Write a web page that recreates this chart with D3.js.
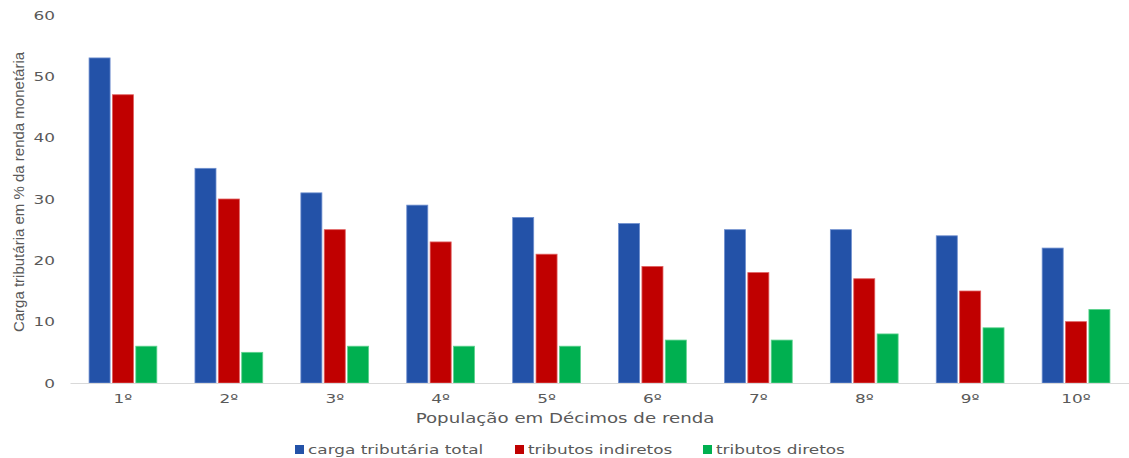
<!DOCTYPE html>
<html>
<head>
<meta charset="utf-8">
<script src="https://cdn.jsdelivr.net/npm/d3@7"></script>
<style>
  html, body { margin: 0; padding: 0; background: #ffffff; }
  svg { display: block; }
</style>
</head>
<body>
<svg id="chart" width="1129" height="458"></svg>
<script>
// Tax burden by income decile (% of monetary income)
const deciles = ["1º", "2º", "3º", "4º", "5º", "6º", "7º", "8º", "9º", "10º"];
const seriesNames = ["carga tributária total", "tributos indiretos", "tributos diretos"];
const total     = [53, 35, 31, 29, 27, 26, 25, 25, 24, 22];
const indiretos = [47, 30, 25, 23, 21, 19, 18, 17, 15, 10];
const diretos   = [6, 5, 6, 6, 6, 7, 7, 8, 9, 12];
const yTicks = [0, 10, 20, 30, 40, 50, 60];
const colors = ["#2352a8", "#c00000", "#00b050"];
const strokes = ["#6f8fcf", "#e06060", "#5fd38f"];

const seriesValues = [total, indiretos, diretos];

const svg = d3.select("#chart");
const margin = { left: 70, right: 0, top: 15, bottom: 75 };
const width = 1129, height = 458;

// wide text rendering (horizontal stretch of labels)
const stretch = "scale(1.3,1)";

const x = d3.scaleBand()
  .domain(deciles)
  .range([margin.left, width - margin.right])
  .paddingInner(0.36)
  .paddingOuter(0.18);

const xSub = d3.scaleBand()
  .domain(d3.range(seriesNames.length))
  .range([0, x.bandwidth()])
  .paddingInner(0.1);

const y = d3.scaleLinear()
  .domain([0, 60])
  .range([383, 15]);

const textColor = "#595959";
const font = "'DejaVu Sans', Verdana, sans-serif";

// Y axis tick labels
const yAxis = d3.axisLeft(y).tickValues(yTicks).tickSize(0).tickPadding(0);
const gy = svg.append("g")
  .attr("transform", `translate(55,0)`)
  .call(yAxis);
gy.select(".domain").remove();
gy.selectAll("text")
  .attr("fill", textColor)
  .attr("transform", stretch)
  .style("font-family", font)
  .style("font-size", "13px");

// Bars
const groups = svg.append("g")
  .selectAll("g")
  .data(deciles)
  .join("g")
  .attr("transform", d => `translate(${x(d)},0)`);

groups.selectAll("rect")
  .data((d, i) => seriesValues.map((vals, s) => ({ s, v: vals[i] })))
  .join("rect")
  .attr("x", d => xSub(d.s))
  .attr("width", xSub.bandwidth())
  .attr("y", d => y(d.v))
  .attr("height", d => y(0) - y(d.v))
  .attr("fill", d => colors[d.s])
  .attr("stroke", d => strokes[d.s])
  .attr("stroke-width", 0.8);

// X axis baseline and labels
const xAxis = d3.axisBottom(x).tickSize(0).tickPadding(11);
const gx = svg.append("g")
  .attr("transform", `translate(0,${y(0)})`)
  .call(xAxis);
gx.select(".domain").attr("stroke", "#d9d9d9").attr("stroke-width", 1.2);
gx.selectAll("text")
  .attr("fill", textColor)
  .attr("transform", stretch)
  .style("font-family", font)
  .style("font-size", "13px");

// Axis titles
svg.append("text")
  .attr("transform", `translate(565,423) ${stretch}`)
  .attr("text-anchor", "middle")
  .attr("fill", textColor)
  .style("font-family", font)
  .style("font-size", "14px")
  .text("População em Décimos de renda");

svg.append("text")
  .attr("transform", "translate(24,192) rotate(-90)")
  .attr("text-anchor", "middle")
  .attr("fill", textColor)
  .style("font-family", "'Liberation Sans', Arial, sans-serif")
  .style("font-size", "15px")
  .text("Carga tributária em % da renda monetária");

// Legend
const legendX = [295, 515, 703];
const legend = svg.append("g")
  .selectAll("g")
  .data(seriesNames)
  .join("g")
  .attr("transform", (d, i) => `translate(${legendX[i]},445)`);

legend.append("rect")
  .attr("width", 9)
  .attr("height", 9)
  .attr("fill", (d, i) => colors[i]);

legend.append("text")
  .attr("transform", `translate(13,9) ${stretch}`)
  .attr("fill", textColor)
  .style("font-family", font)
  .style("font-size", "13px")
  .text(d => d);
</script>
</body>
</html>
